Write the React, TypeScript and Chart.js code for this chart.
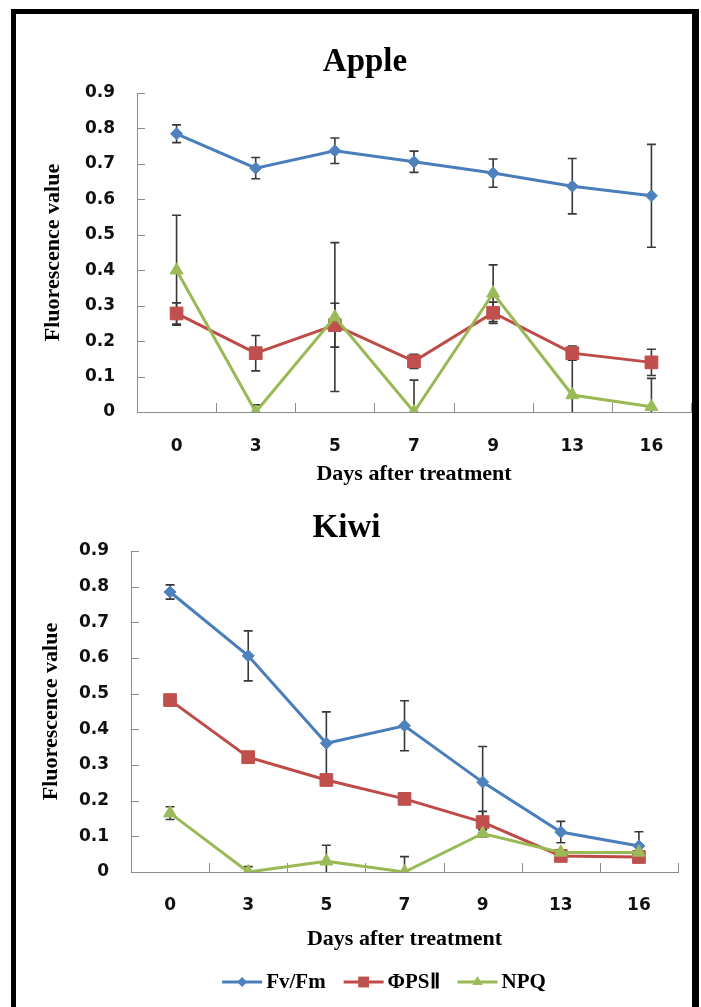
import React, { useEffect, useRef } from 'react';
import { Chart, registerables } from 'chart.js';

Chart.register(...registerables);

// ---------- data ----------
const days = ['0', '3', '5', '7', '9', '13', '16'];
const yTickLabels = ['0', '0.1', '0.2', '0.3', '0.4', '0.5', '0.6', '0.7', '0.8', '0.9'];
const seriesNames = ['Fv/Fm', 'ΦPSⅡ', 'NPQ'];

const appleFvFm = [0.785, 0.688, 0.737, 0.706, 0.674, 0.637, 0.61];
const appleFvFmErr = [0.025, 0.03, 0.036, 0.03, 0.04, 0.078, 0.145];
const applePhiPSII = [0.278, 0.166, 0.245, 0.143, 0.28, 0.166, 0.14];
const applePhiPSIIErr = [0.03, 0.05, 0.062, 0.02, 0.03, 0.02, 0.037];
const appleNPQ = [0.4, 0, 0.268, 0, 0.335, 0.048, 0.015];
const appleNPQErr = [0.155, 0.02, 0.21, 0.09, 0.08, 0.12, 0.08];

const kiwiFvFm = [0.785, 0.606, 0.361, 0.41, 0.252, 0.112, 0.073];
const kiwiFvFmErr = [0.02, 0.07, 0.088, 0.07, 0.1, 0.03, 0.04];
const kiwiPhiPSII = [0.482, 0.322, 0.258, 0.205, 0.14, 0.045, 0.042];
const kiwiPhiPSIIErr = [0.005, 0.005, 0.005, 0.005, 0.03, 0.005, 0.005];
const kiwiNPQ = [0.165, 0, 0.03, 0, 0.108, 0.055, 0.055];
const kiwiNPQErr = [0.018, 0.015, 0.045, 0.043, 0.01, 0.005, 0.005];

// ---------- styles ----------
const lineColors = ['#4A7EBB', '#BE4B48', '#98B954'];
const markerColors = ['#4F81BD', '#C0504D', '#9BBB59'];
const pointStyles = ['rectRot', 'rect', 'triangle'];
const pointRadii = [6, 9, 7.5];
const SERIF = "'Liberation Serif', 'Times New Roman', serif";
const SANS = "'DejaVu Sans', 'Liberation Sans', sans-serif";

function errorBarPlugin(errs: number[][]) {
  return {
    id: 'errorBars',
    beforeDatasetsDraw(chart: any) {
      const ctx = chart.ctx;
      const { left, right, top, bottom } = chart.chartArea;
      const ys = chart.scales.y;
      ctx.save();
      ctx.beginPath();
      ctx.rect(left, top - 20, right - left, bottom - top + 20);
      ctx.clip();
      ctx.strokeStyle = '#383838';
      ctx.lineWidth = 1.6;
      chart.data.datasets.forEach((ds: any, di: number) => {
        const meta = chart.getDatasetMeta(di);
        meta.data.forEach((pt: any, i: number) => {
          const v = ds.data[i];
          const e = errs[di][i];
          const x = pt.x;
          const y1 = ys.getPixelForValue(v + e);
          const y2 = ys.getPixelForValue(v - e);
          ctx.beginPath();
          ctx.moveTo(x, y1);
          ctx.lineTo(x, y2);
          ctx.moveTo(x - 4.5, y1);
          ctx.lineTo(x + 4.5, y1);
          ctx.moveTo(x - 4.5, y2);
          ctx.lineTo(x + 4.5, y2);
          ctx.stroke();
        });
      });
      ctx.restore();
    },
  };
}

const innerTicksPlugin = {
  id: 'innerTicks',
  beforeDatasetsDraw(chart: any) {
    const ctx = chart.ctx;
    const { left, right, bottom } = chart.chartArea;
    const ys = chart.scales.y;
    const n = chart.data.labels.length;
    ctx.save();
    ctx.strokeStyle = '#8c8c8c';
    ctx.lineWidth = 1;
    ctx.beginPath();
    ys.ticks.forEach((t: any) => {
      const py = Math.round(ys.getPixelForValue(t.value)) + 0.5;
      ctx.moveTo(left, py);
      ctx.lineTo(left + 8, py);
    });
    for (let i = 0; i <= n; i++) {
      const px = Math.round(left + (i * (right - left)) / n) + 0.5;
      ctx.moveTo(px, bottom);
      ctx.lineTo(px, bottom - 9);
    }
    ctx.stroke();
    ctx.restore();
  },
};

function legendPlugin(centerX: number, centerY: number) {
  return {
    id: 'customLegend',
    afterDraw(chart: any) {
      const ctx = chart.ctx;
      ctx.save();
      ctx.font = `bold 21px ${SERIF}`;
      const lineLen = 40;
      const gapText = 4;
      const gapItem = 18;
      const widths = seriesNames.map((s) => ctx.measureText(s).width);
      const total = widths.reduce((a, w) => a + lineLen + gapText + w, 0) + gapItem * (seriesNames.length - 1);
      let x = centerX - total / 2;
      seriesNames.forEach((name, i) => {
        ctx.strokeStyle = lineColors[i];
        ctx.lineWidth = 3;
        ctx.beginPath();
        ctx.moveTo(x, centerY);
        ctx.lineTo(x + lineLen, centerY);
        ctx.stroke();
        const r = [5, 6.5, 6][i];
        ctx.fillStyle = markerColors[i];
        ctx.beginPath();
        const cx = x + lineLen / 2;
        if (i === 0) {
          ctx.moveTo(cx - r, centerY);
          ctx.lineTo(cx, centerY - r);
          ctx.lineTo(cx + r, centerY);
          ctx.lineTo(cx, centerY + r);
        } else if (i === 1) {
          ctx.rect(cx - r / 1.2, centerY - r / 1.2, (2 * r) / 1.2, (2 * r) / 1.2);
        } else {
          ctx.moveTo(cx, centerY - r);
          ctx.lineTo(cx + r * 0.87, centerY + r * 0.5);
          ctx.lineTo(cx - r * 0.87, centerY + r * 0.5);
        }
        ctx.closePath();
        ctx.fill();
        ctx.fillStyle = '#000';
        ctx.textBaseline = 'middle';
        ctx.textAlign = 'left';
        ctx.fillText(name, x + lineLen + gapText, centerY + 1);
        x += lineLen + gapText + widths[i] + gapItem;
      });
      ctx.restore();
    },
  };
}

interface PanelCfg {
  title: string;
  series: number[][];
  errs: number[][];
  width: number;
  height: number;
  yW: number;
  xH: number;
  padRight: number;
  padBottom: number;
  titlePadTop: number;
  titlePadBottom: number;
  yTitlePad: number;
  xTickPad: number;
  xTitlePadBottom: number;
  legend?: [number, number];
}

function buildConfig(p: PanelCfg): any {
  const datasets = p.series.map((data, i) => ({
    label: seriesNames[i],
    data,
    borderColor: lineColors[i],
    backgroundColor: markerColors[i],
    borderWidth: 3,
    pointStyle: pointStyles[i],
    pointRadius: pointRadii[i],
    pointBackgroundColor: markerColors[i],
    pointBorderColor: markerColors[i],
    pointBorderWidth: 1,
    fill: false,
    tension: 0,
    order: 2 - i,
  }));
  const plugins: any[] = [innerTicksPlugin, errorBarPlugin(p.errs)];
  if (p.legend) plugins.push(legendPlugin(p.legend[0], p.legend[1]));
  return {
    type: 'line',
    data: { labels: days, datasets },
    plugins,
    options: {
      responsive: false,
      animation: false,
      devicePixelRatio: 1,
      layout: { padding: { left: 0, right: p.padRight, top: 0, bottom: p.padBottom } },
      plugins: {
        legend: { display: false },
        tooltip: { enabled: false },
        title: {
          display: true,
          text: p.title,
          color: '#000',
          font: { family: SERIF, size: 33, weight: 'bold', lineHeight: 1.2 },
          padding: { top: p.titlePadTop, bottom: p.titlePadBottom },
        },
      },
      scales: {
        x: {
          type: 'category',
          offset: true,
          afterFit: (s: any) => {
            s.height = p.xH;
          },
          grid: { display: false, drawTicks: false, drawOnChartArea: false },
          border: { display: true, color: '#8c8c8c', width: 1 },
          ticks: {
            color: '#111',
            padding: p.xTickPad,
            maxRotation: 0,
            font: { family: SANS, size: 17, weight: 'bold', lineHeight: 1.2 },
          },
          title: {
            display: true,
            text: 'Days after treatment',
            color: '#000',
            font: { family: SERIF, size: 22, weight: 'bold', lineHeight: 1.2 },
            padding: { top: 0, bottom: p.xTitlePadBottom },
          },
        },
        y: {
          type: 'linear',
          min: 0,
          max: 0.9,
          afterFit: (s: any) => {
            s.width = p.yW;
          },
          grid: { display: false, drawTicks: false, drawOnChartArea: false },
          border: { display: true, color: '#8c8c8c', width: 1 },
          ticks: {
            stepSize: 0.1,
            color: '#111',
            padding: 22,
            font: { family: SANS, size: 17, weight: 'bold', lineHeight: 1.2 },
            callback: (_v: any, i: number) => yTickLabels[i],
          },
          title: {
            display: true,
            text: 'Fluorescence value',
            color: '#000',
            font: { family: SERIF, size: 22, weight: 'bold', lineHeight: 1.2 },
            padding: { top: p.yTitlePad, bottom: 0 },
          },
        },
      },
    },
  };
}

const applePanel: PanelCfg = {
  title: 'Apple',
  series: [appleFvFm, applePhiPSII, appleNPQ],
  errs: [appleFvFmErr, applePhiPSIIErr, appleNPQErr],
  width: 668,
  height: 490,
  yW: 104,
  xH: 78,
  padRight: 4,
  padBottom: 0,
  titlePadTop: 43,
  titlePadBottom: 10.4,
  yTitlePad: 6.8,
  xTickPad: 24,
  xTitlePadBottom: 2.8,
};

const kiwiPanel: PanelCfg = {
  title: 'Kiwi',
  series: [kiwiFvFm, kiwiPhiPSII, kiwiNPQ],
  errs: [kiwiFvFmErr, kiwiPhiPSIIErr, kiwiNPQErr],
  width: 686,
  height: 517,
  yW: 116,
  xH: 85,
  padRight: 23,
  padBottom: 50,
  titlePadTop: 19,
  titlePadBottom: 2.4,
  yTitlePad: 22.8,
  xTickPad: 23,
  xTitlePadBottom: 4.8,
  legend: [369, 492],
};

function Panel({ cfg, left, top }: { cfg: PanelCfg; left: number; top: number }) {
  const ref = useRef<HTMLCanvasElement>(null);
  useEffect(() => {
    if (!ref.current) return;
    const chart = new Chart(ref.current, buildConfig(cfg));
    return () => chart.destroy();
  }, [cfg]);
  return (
    <canvas
      ref={ref}
      width={cfg.width}
      height={cfg.height}
      style={{ position: 'absolute', left, top, width: cfg.width, height: cfg.height, display: 'block' }}
    />
  );
}

export default function App() {
  return (
    <div
      style={{
        position: 'absolute',
        left: 0,
        top: 0,
        width: 701,
        height: 1007,
        overflow: 'hidden',
        background: '#fff',
      }}
    >
      <Panel cfg={applePanel} left={33} top={0} />
      <Panel cfg={kiwiPanel} left={15} top={490} />
      <div
        style={{
          position: 'absolute',
          left: 11,
          top: 9,
          width: 688,
          height: 1100,
          boxSizing: 'border-box',
          borderLeft: '5px solid #000',
          borderTop: '5px solid #000',
          borderRight: '7px solid #000',
          pointerEvents: 'none',
        }}
      />
    </div>
  );
}
